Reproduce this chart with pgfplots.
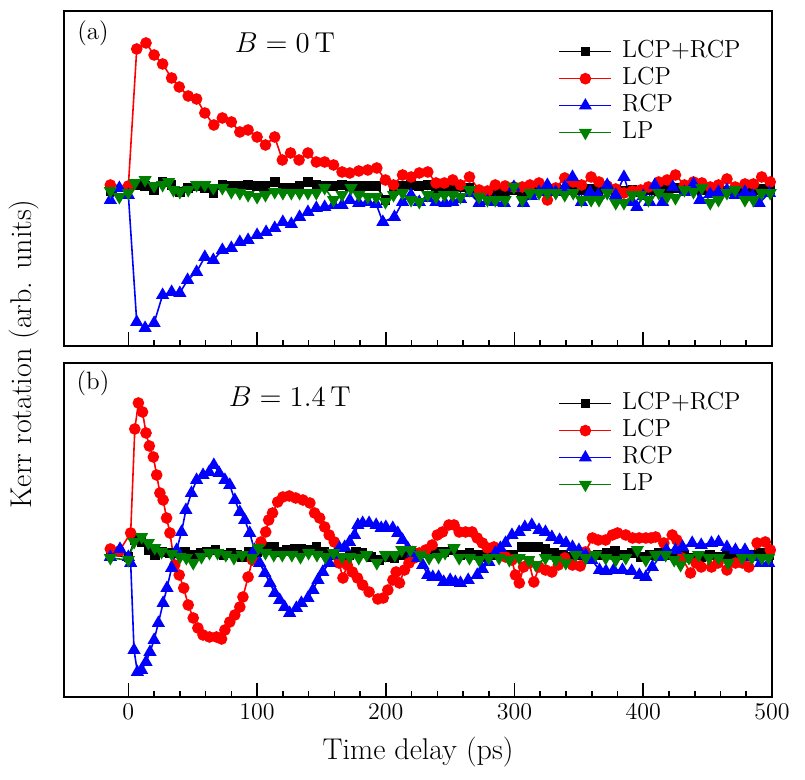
\documentclass[border=0pt]{standalone}
\usepackage{pgfplots}
\pgfplotsset{compat=1.18}
\definecolor{cred}{RGB}{255,0,0}
\definecolor{cblue}{RGB}{0,0,255}
\definecolor{cgreen}{RGB}{0,128,0}
\newcommand{\legtxt}[1]{\hspace*{4pt}#1}
\pgfplotsset{
  panel/.style={
    width=354pt, height=167.5pt, scale only axis,
    xmin=-50, xmax=500,
    axis line style={line width=1pt},
    xtick={0,100,...,500}, minor x tick num=4,
    xtick pos=bottom, xtick align=inside,
    major tick length=7pt, minor tick length=3.2pt,
    every tick/.style={black, line width=0.8pt},
    ytick=\empty,
    tick label style={font=\fontsize{11.5}{13}\selectfont},
    legend cell align=left,
    legend style={draw=none, fill=none, at={(0.698,0.92)}, anchor=north west,
      inner sep=0pt, font=\fontsize{12.3}{14}\selectfont,
      nodes={inner sep=1pt, text height=8.5pt, text depth=3pt}},
    legend image code/.code={\draw[mark repeat=2,mark phase=2] plot coordinates {(0pt,0pt)(13pt,0pt)(26pt,0pt)};},
  },
  sBlack/.style={black, line width=0.8pt, mark=square*, mark size=2pt},
  sRed/.style={cred, line width=0.8pt, mark=*, mark size=2.5pt},
  sBlue/.style={cblue, line width=0.8pt, mark=triangle*, mark size=3pt},
  sGreen/.style={cgreen, line width=0.8pt, mark=triangle*, mark size=3pt, mark options={rotate=180}},
}
\begin{document}
\begin{tikzpicture}
\path (-32pt,-41.5pt) rectangle (370.5pt,348.5pt);
% ---------- top panel (a)
\begin{axis}[panel, at={(0pt,175.5pt)}, anchor=south west, ymin=-155, ymax=180, xticklabels=\empty]
\addplot[sBlack] coordinates {(-14,0) (0,3) (6.5,6) (13,5) (20,1) (26.6,9) (33.6,6) (40,-1) (46.5,3) (53,5) (59.4,3) (66,-2) (73,6) (80,5) (86.6,5) (93,6) (100,5) (106.5,5) (113.7,9) (120,3) (126.6,3) (133,5) (139.5,9) (146,6) (152.5,5) (159.4,5) (166,6) (172,5) (179,5) (186,5) (192.5,5) (199.7,-9) (206,0) (213,5) (219.6,6) (226,5) (232.6,6) (239,3) (246,3) (252,4) (258,4) (265,3) (272.5,-3) (279,-2) (285,-1) (292,0) (299.5,1) (306,-1) (313,0) (319,1) (325.5,0) (332,2) (339,1) (345,3) (352,1) (359,2) (365,1) (372,3) (378.6,1) (385,0) (391.5,1) (398,-1) (405,1) (412,0) (418.5,2) (425,3) (432,1) (439,2) (445.5,1) (452,0) (458.4,2) (465,0) (471.4,1) (479,2) (485.6,1) (492,2) (498.6,2)};
\addlegendentry{\legtxt{LCP+RCP}}
\addplot[sRed] coordinates {(-14,6) (0,5) (6.5,142) (13.7,148) (20,136) (26.6,127) (33.6,113) (39.5,104) (46.5,95) (53,92) (59.4,78) (66.4,66) (73,73) (80,69) (86.6,59) (93,61) (100,54) (106.5,46) (113.7,54) (119.6,31) (126,38) (132.6,31) (139.5,38) (146,29) (152.5,29) (159.4,26) (166,19) (172,18) (179,20) (186,21) (193,23) (199.7,11) (206,6) (213,16) (219.7,14) (226,18) (232.6,19) (239,8) (245.5,8) (252,11) (258,6) (265,14) (272.5,1) (279,0) (285,6) (292.7,5) (299.5,4) (306,4) (312,6) (319,8) (325.5,-9) (332,3) (339,13) (345.6,9) (352,6) (359.5,14) (365.6,9) (372,5) (378.6,2) (385,-2) (391.5,0) (398,1) (404,4) (412,9) (418.5,11) (425,16) (432,6) (439,9) (445.5,8) (452,4) (458.4,6) (465,12) (471.4,4) (479,7) (485.6,7) (492,14) (498.6,9)};
\addlegendentry{\legtxt{LCP}}
\addplot[sBlue] coordinates {(-14,-9) (-7,3) (0,-4) (6.5,-131) (13,-137) (20,-132) (26.6,-104) (33.6,-101) (40,-102) (46,-89) (53,-81) (59.4,-66) (66,-69) (73,-59) (80,-57) (86.6,-51) (93,-49) (100,-44) (107,-41) (113.7,-37) (120,-31) (126.6,-33) (133,-26) (139.5,-21) (146,-17) (152.5,-16) (159.4,-14) (166,-14) (172,-9) (179,-12) (186,-11) (192.5,-13) (197.7,-31) (206.7,-26) (213,-11) (219.6,-4) (226,-11) (232.6,-7) (239,-11) (246,-12) (252,-11) (258,-8) (265,-2) (272.5,-12) (279,-10) (285,-11) (292,-12) (299.5,4) (307,-12) (313,-5) (319,-1) (325.5,6) (332,-1) (339,4) (345,14) (352,-11) (358.6,-1) (365,-4) (372,6) (378.6,-4) (385,14) (391.5,-11) (395,-16) (400,-5) (405,-11) (409,6) (415,-11) (423,4) (432,-1) (439,7) (444,-9) (452,-3) (458.4,-1) (465,1) (471.4,-4) (479,-1) (485,-5) (490,-12) (498,-2)};
\addlegendentry{\legtxt{RCP}}
\addplot[sGreen] coordinates {(-14,0) (-7,-6) (0,-2) (5,8) (13,11) (20,5) (26.6,6) (31.3,9) (35,1) (40,-1) (46.5,1) (53,6) (59.4,6) (66,3) (73,3) (80,-1) (86.6,-2) (93,-4) (100,-6) (106.5,-4) (113.7,-1) (120,-2) (126.6,-2) (133,-2) (139.5,-2) (146,-2) (152.5,3) (159.4,-9) (166,-4) (173,3) (179,-4) (186,-6) (192.5,-6) (199.7,-11) (206,-4) (213,-2) (219.6,-9) (226,-11) (232.6,-4) (239,-6) (245.5,-4) (252,-4) (258,-6) (265,1) (272.5,-6) (279,-9) (285,-9) (292.7,-9) (299.5,4) (306,-9) (312,-2) (319,-2) (325.5,-2) (332,-2) (339,-4) (345.6,-2) (352,-9) (359.5,-9) (365.6,-9) (372,-2) (378.6,-12) (385,-12) (391.5,-4) (398,-4) (404,-9) (412,-2) (418.5,-6) (425,-7) (432,1) (439,-1) (445.5,3) (452,-12) (458.4,-9) (465,-2) (471.4,1) (479,-9) (485.6,-9) (492,-2) (498.6,-2)};
\addlegendentry{\legtxt{LP}}
\node[font=\fontsize{12.5}{14}\selectfont, anchor=center] at (rel axis cs:0.041,0.934) {(a)};
\node[font=\fontsize{13.5}{15}\selectfont, anchor=center] at (rel axis cs:0.312,0.904) {$B=0\,\mathrm{T}$};
\end{axis}
% ---------- bottom panel (b)
\begin{axis}[panel, at={(0pt,0pt)}, anchor=south west, height=167pt, ymin=-142, ymax=192,
  xlabel={Time delay (ps)}, xlabel style={font=\fontsize{15}{17}\selectfont, yshift=-2pt}]
\addplot[sBlack] coordinates {(-14,0) (0,-2) (5,15) (10.3,13) (15.5,5) (20.5,0) (26,3) (32,2) (37.5,2) (44,3) (50.4,0) (56,2) (61,3) (67.7,5) (74,0) (79.5,2) (84.6,0) (88.4,-2) (93.5,3) (100,3) (106.5,8) (113,8) (118,3) (123,5) (129.5,6) (134.6,6) (141,5) (146,8) (152.5,3) (160,0) (166,-3) (171.8,0) (177,3) (182,2) (188.4,-2) (195,-5) (201.6,-2) (206.7,-3) (213,0) (219.6,2) (226,2) (232.6,2) (239,3) (245.5,3) (252,5) (258,0) (265,2) (272,0) (279,-2) (285,0) (292,0) (299,0) (306,8) (312,8) (318,8) (324,6) (331,2) (338,0) (345,-2) (352,0) (358,-2) (365,0) (372,2) (378,4) (385,0) (391,2) (398,-2) (405,0) (412,2) (418,0) (425,-2) (432,0) (438,-3) (445,-2) (452,0) (458,-2) (465,0) (471,-2) (478,0) (485,0) (491,2) (498,0)};
\addlegendentry{\legtxt{LCP+RCP}}
\addplot[sRed] coordinates {(-14,6) (-7,4) (1.8,22) (5,126) (7.8,152) (11,143) (13.7,122) (16.3,109) (19.4,98) (22,80) (24.5,62) (27,55) (29.7,37) (32.3,22) (36,-10) (39.5,-20) (43,-33) (46.5,-50) (50.4,-63) (54,-73) (58,-80) (63,-82) (68.5,-82) (72.4,-84) (75,-75) (78.8,-67) (82.7,-60) (86.6,-52) (89,-42) (93,-22) (96.4,-5) (103,13) (106.7,23) (109,35) (112,42) (116,53) (120,58) (125,59) (130,57) (135.6,55) (141,52) (144.7,42) (148.6,37) (152.5,28) (156,20) (160,13) (163.6,-8) (166.7,-23) (170,-10) (174,-17) (178,-23) (182,-30) (187,-37) (193.8,-44) (198,-43) (201.6,-35) (205.5,-25) (208,-17) (210.6,-28) (214.5,-15) (218,-8) (222,-3) (226,2) (231,5) (236,10) (240,20) (244,23) (249,30) (253,30) (257,23) (262,23) (267,23) (271,17) (275,12) (279,7) (284,8) (288,2) (293,-2) (298,-5) (300.7,-20) (303.7,-28) (307,-12) (311.4,-8) (315,-27) (319,-12) (324,-15) (329,-17) (334,-10) (339,-3) (345,-10) (351,-11) (355,3) (360.5,17) (365,15) (370.8,15) (376,20) (380,22) (386.4,20) (391.6,17) (396.8,17) (402,17) (406,17) (409.6,18) (416,12) (422.5,20) (426,15) (430,-3) (436.7,-18) (441,-8) (445,-12) (453,-12) (458,-8) (465,-15) (471.6,-8) (477,-8) (482,-12) (488.4,12) (494.8,13) (498.7,5)};
\addlegendentry{\legtxt{LCP}}
\addplot[sBlue] coordinates {(-14,-2) (-6.5,6) (0,-2) (1.8,-8) (4.4,-95) (7,-117) (10.3,-115) (13.7,-107) (16.8,-97) (20,-85) (23.3,-68) (27,-48) (30,-33) (33.6,-13) (37.5,5) (41.3,23) (44.7,45) (49,62) (53,75) (58,80) (62.8,83) (66.4,90) (70.5,82) (75,75) (78.8,70) (82.7,55) (86.6,43) (90.4,35) (94.3,22) (98,5) (102,-8) (106,-18) (110,-28) (113.7,-38) (117.6,-45) (121.4,-52) (125.3,-58) (130.5,-53) (134.4,-48) (139.5,-43) (143.4,-35) (147.3,-25) (151,-17) (156,-8) (160,0) (164,7) (168,8) (171.8,13) (175.7,20) (178.3,30) (182,32) (187,32) (192.5,30) (196.4,27) (200,28) (205.4,27) (209.3,22) (213,15) (217,7) (221,2) (224.8,-3) (228.7,-10) (232.6,-20) (236.5,-22) (241,-22) (245,-27) (250,-25) (254,-27) (258,-28) (264,-25) (271,-20) (275,-14) (280,-7) (285,2) (289,7) (293,12) (298,20) (303.6,23) (308,28) (313.4,30) (319,25) (324,23) (329,18) (335,15) (340,12) (345,8) (350,5) (355.3,0) (360,-5) (366,-15) (371,-16) (377,-15) (383.8,-15) (391,-16) (397,-20) (402,-22) (407,-12) (412.8,-2) (418,5) (425,5) (430.5,8) (438,12) (445,10) (453,12) (458.5,13) (465,8) (471.6,5) (479,5) (484.4,-2) (491,-8) (497.4,-8)};
\addlegendentry{\legtxt{RCP}}
\addplot[sGreen] coordinates {(-14,-3) (0,-5) (4.4,13) (10.3,18) (15.5,12) (20.5,7) (25.8,3) (33.6,1) (40,-2) (45,-3) (50.4,-8) (56.8,-2) (63,2) (69.3,2) (75.7,0) (82,-3) (88.4,0) (96,-3) (101,7) (106.5,2) (113,0) (119.6,0) (127,0) (133.7,-2) (140,2) (146.5,0) (153,-2) (159.4,2) (166,-2) (172,-2) (179,-3) (185,0) (193,-8) (199.7,0) (207,0) (212.4,5) (219,5) (227,0) (233.6,-3) (241,-2) (246,2) (253,7) (257,-3) (265,-3) (272.6,-5) (280,-3) (288,-3) (296,-5) (303.6,-3) (311,-5) (316.6,-10) (324,-3) (332,-5) (339.8,-8) (347.6,0) (355.3,-3) (363,0) (370.8,-3) (378.6,-5) (386.4,-3) (395.4,5) (402,-5) (409.6,0) (417.4,0) (424,-5) (429,-10) (435.5,-3) (443,0) (451,-3) (458.5,-3) (466,-8) (476.8,-3) (484.4,-3) (492.2,-3) (497.4,-3)};
\addlegendentry{\legtxt{LP}}
\node[font=\fontsize{12.5}{14}\selectfont, anchor=center] at (rel axis cs:0.041,0.94) {(b)};
\node[font=\fontsize{13.5}{15}\selectfont, anchor=center] at (rel axis cs:0.319,0.898) {$B=1.4\,\mathrm{T}$};
\end{axis}
\node[rotate=90, font=\fontsize{15}{17}\selectfont] at (-20pt,171.5pt) {Kerr rotation (arb. units)};
\end{tikzpicture}
\end{document}
